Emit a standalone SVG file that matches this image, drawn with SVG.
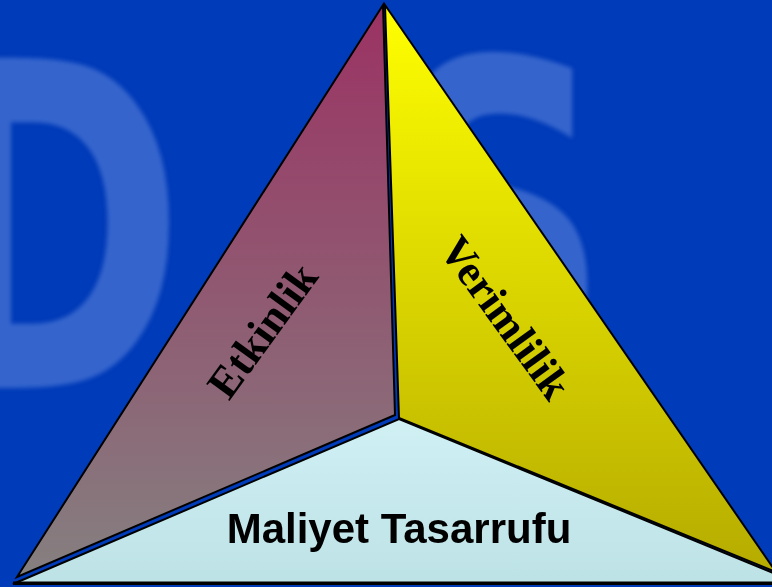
<svg xmlns="http://www.w3.org/2000/svg" width="772" height="587" viewBox="0 0 772 587">
  <defs>
    <linearGradient id="gLeft" gradientUnits="userSpaceOnUse" x1="0" y1="5" x2="0" y2="577">
      <stop offset="0" stop-color="#9b3263"/>
      <stop offset="1" stop-color="#858080"/>
    </linearGradient>
    <linearGradient id="gRight" gradientUnits="userSpaceOnUse" x1="0" y1="5" x2="0" y2="575">
      <stop offset="0" stop-color="#ffff00"/>
      <stop offset="1" stop-color="#b5ab00"/>
    </linearGradient>
    <linearGradient id="gBottom" gradientUnits="userSpaceOnUse" x1="0" y1="418" x2="0" y2="583">
      <stop offset="0" stop-color="#d0f0f4"/>
      <stop offset="1" stop-color="#bde2e6"/>
    </linearGradient>
    <filter id="soft" x="-10%" y="-10%" width="120%" height="120%">
      <feGaussianBlur stdDeviation="2"/>
    </filter>
    <style>
      .face { stroke: #000; stroke-width: 2; stroke-linejoin: miter; }
      .wm { font-family: "DejaVu Sans", Verdana, sans-serif; font-weight: bold; font-size: 453px; fill: #3565cc; }
      .serif { font-family: "Liberation Serif", "Times New Roman", serif; font-weight: bold; font-size: 44px; fill: #000; text-anchor: middle; }
      .sans { font-family: "Liberation Sans", Arial, sans-serif; font-weight: bold; font-size: 42px; fill: #000; text-anchor: middle; }
    </style>
  </defs>

  <rect x="0" y="0" width="772" height="587" fill="#003bb9"/>

  <g id="watermark" filter="url(#soft)">
    <text class="wm" transform="translate(0,388) scale(0.7,1)" x="-111" y="0">D</text>
    <text class="wm" transform="translate(0,388) scale(0.7,1)" x="546" y="0">S</text>
  </g>

  <g id="face-etkinlik">
    <polygon class="face" fill="url(#gLeft)" points="383,5 17,577 395,415"/>
    <text class="serif" transform="translate(263,331) rotate(-54)" x="0" y="14">Etkinlik</text>
  </g>

  <g id="face-verimlilik">
    <polygon class="face" fill="url(#gRight)" points="385,5 776,572 399,418"/>
    <text class="serif" transform="translate(505,318) rotate(54)" x="0" y="14">Verimlilik</text>
  </g>

  <g id="face-maliyet">
    <polygon class="face" fill="url(#gBottom)" points="399,419 800,584 13,584"/>
    <line x1="13" y1="583" x2="772" y2="583" stroke="#000" stroke-width="3"/>
    <text class="sans" x="399" y="543">Maliyet Tasarrufu</text>
  </g>

  <g id="connectors"></g>
</svg>
